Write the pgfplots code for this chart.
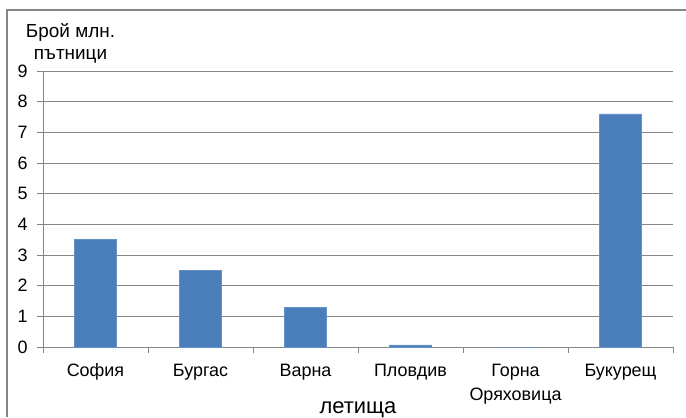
\documentclass[border=0pt]{standalone}
\usepackage{pgfplots}
\pgfplotsset{compat=1.18}
\usepackage{fontspec}
\setmainfont{Liberation Sans}
\definecolor{barblue}{RGB}{74,126,187}
\definecolor{gridgray}{RGB}{134,134,134}
\begin{document}
\begin{tikzpicture}[x=1bp,y=1bp]
\useasboundingbox (0,0) rectangle (686,417);
\draw[gridgray,line width=1.2bp] (7,0) -- (7,407) -- (686,407);
\begin{axis}[
  at={(43bp,70bp)}, anchor=south west,
  scale only axis, width=630bp, height=276bp,
  xmin=-0.5, xmax=5.5, ymin=0, ymax=9,
  xtick={-0.5,0.5,...,5.5},
  x tick label as interval,
  xticklabels={\strut София,\strut Бургас,\strut Варна,\strut Пловдив,{\strut Горна\\\strut Оряховица},\strut Букурещ},
  ytick={0,...,9},
  ymajorgrids,
  grid style={gridgray, line width=0.8bp},
  axis line style={gridgray, line width=0.8bp},
  tick style={gridgray, line width=0.8bp},
  major tick length=6bp,
  tick align=outside,
  axis x line*=bottom, axis y line*=left,
  /pgf/number format/assume math mode=true,
  ticklabel style={font=\fontsize{18}{22}\selectfont, text=black},
  xticklabel style={align=center, inner sep=0pt, yshift=-7bp, font=\fontsize{18}{24}\selectfont},
  yticklabel style={xshift=-6bp},
  xlabel={летища},
  xlabel style={font=\fontsize{22}{24}\selectfont, at={(axis description cs:0.5,0)}, anchor=base, yshift=-66bp},
  ylabel={Брой млн.\\пътници},
  ylabel style={rotate=-90, at={(axis description cs:0.0437,1)}, anchor=south, align=center, font=\fontsize{19}{22}\selectfont, yshift=4bp},
  ybar, bar width=42bp,
]
\addplot[fill=barblue, draw=barblue!85!white] coordinates {
  (0,3.5) (1,2.5) (2,1.3) (3,0.07) (4,0) (5,7.6)
};
\end{axis}
\end{tikzpicture}
\end{document}
